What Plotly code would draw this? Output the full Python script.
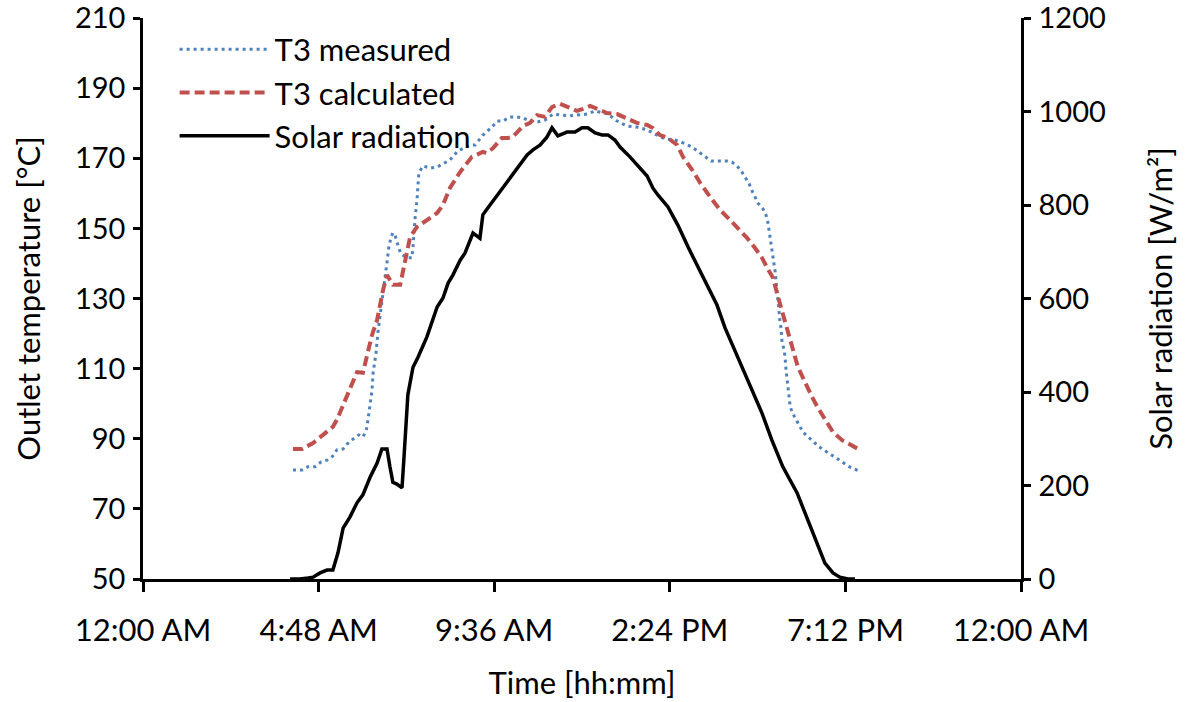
import plotly.graph_objects as go

# ---- data (time in hours of day) ----
t_meas = [4.10, 4.35, 4.51, 4.70, 4.87, 5.03, 5.19, 5.30, 5.47, 5.58, 5.74, 5.90, 6.01, 6.10,
          6.15, 6.21, 6.26, 6.29, 6.37, 6.42, 6.48, 6.53, 6.59, 6.62, 6.67, 6.72, 6.78, 6.83,
          6.89, 6.94, 7.00, 7.05, 7.22, 7.35, 7.38, 7.41, 7.44, 7.49, 7.52, 7.54, 7.65, 7.85,
          8.04, 8.20, 8.39, 8.58, 8.75, 8.99, 9.08, 9.29, 9.54, 9.68, 9.84, 10.03, 10.22, 10.39,
          10.58, 10.80, 10.99, 11.21, 11.45, 11.62, 11.86, 12.14, 12.36, 12.71, 12.96, 13.23,
          13.50, 13.78, 14.05, 14.27, 14.54, 14.76, 15.01, 15.23, 15.53, 15.72, 15.96, 16.10,
          16.24, 16.37, 16.48, 16.57, 16.65, 16.73, 16.81, 16.95, 17.03, 17.08, 17.11, 17.14,
          17.17, 17.19, 17.22, 17.25, 17.28, 17.30, 17.33, 17.36, 17.41, 17.44, 17.47, 17.52,
          17.55, 17.58, 17.60, 17.63, 17.66, 17.69, 17.74, 17.85, 17.93, 18.04, 18.18, 18.31,
          18.45, 18.62, 18.78, 18.94, 19.11, 19.27, 19.44, 19.63]
T_meas = [81.1, 81.1, 82.0, 82.0, 83.4, 83.9, 85.1, 86.8, 87.1, 88.5, 89.9, 91.1, 90.5, 92.2,
          95.4, 99.6, 103.9, 108.8, 114.5, 120.2, 124.7, 129.6, 133.3, 136.7, 140.4, 144.7, 147.5, 148.7,
          148.1, 146.1, 144.1, 142.7, 141.6, 141.6, 144.7, 149.5, 153.3, 158.1, 161.8, 165.8, 167.8, 167.2,
          167.5, 168.4, 169.5, 171.8, 172.9, 173.8, 173.8, 176.6, 178.9, 180.6, 180.6, 181.8, 181.8, 181.5,
          180.6, 180.4, 180.9, 182.6, 182.3, 182.1, 182.3, 182.6, 183.5, 182.6, 180.6, 179.2,
          178.9, 178.1, 176.6, 175.5, 175.2, 174.4, 173.2, 171.5, 169.2, 169.2, 169.2, 168.9,
          167.8, 166.1, 164.4, 162.7, 160.7, 159.0, 157.2, 155.5, 153.8, 151.8, 149.8, 147.5,
          145.6, 143.6, 141.8, 139.8, 137.6, 135.6, 131.9, 127.6, 123.6, 121.6, 117.3, 115.6,
          113.3, 109.3, 107.3, 105.3, 101.6, 99.3, 97.6, 95.6, 93.9, 91.9, 90.5, 89.4,
          87.9, 86.8, 85.7, 84.5, 83.4, 82.2, 81.4, 80.5]

t_calc = [4.10, 4.35, 4.65, 4.78, 4.98, 5.19, 5.30, 5.39, 5.52, 5.66, 5.85, 6.01, 6.15, 6.26,
          6.40, 6.56, 6.67, 6.83, 7.03, 7.16, 7.30, 7.49, 7.76, 8.04, 8.20, 8.39, 8.67, 8.99,
          9.29, 9.40, 9.57, 9.81, 9.98, 10.11, 10.39, 10.58, 10.77, 10.99, 11.18, 11.40, 11.62,
          11.86, 12.03, 12.22, 12.49, 12.68, 12.96, 13.23, 13.50, 13.78, 13.94, 14.13, 14.35,
          14.60, 14.76, 15.01, 15.23, 15.50, 15.77, 15.99, 16.13, 16.32, 16.51, 16.73, 16.92,
          17.08, 17.22, 17.36, 17.49, 17.63, 17.77, 17.90, 18.10, 18.29, 18.45, 18.64, 18.86,
          19.11, 19.33, 19.55, 19.60]
T_calc = [87.1, 87.1, 88.8, 89.9, 91.6, 93.4, 95.4, 97.6, 100.8, 104.8, 109.0, 108.8, 115.3, 119.6,
          123.9, 132.4, 136.7, 133.9, 133.9, 141.0, 147.5, 150.4, 152.4, 154.4, 156.7, 161.5, 166.1, 170.4,
          171.8, 171.5, 172.9, 175.8, 175.8, 176.1, 179.2, 180.1, 182.3, 181.8, 184.6, 185.5, 184.6,
          183.5, 184.1, 184.9, 183.8, 182.9, 182.6, 181.5, 180.1, 179.5, 178.6, 176.6, 175.8,
          173.8, 170.4, 166.7, 163.0, 159.0, 155.3, 153.0, 151.5, 149.5, 147.3, 144.4, 141.6,
          138.4, 135.9, 130.4, 125.3, 120.2, 115.3, 110.5, 105.9, 101.9, 98.8, 95.4, 91.9,
          89.6, 88.2, 87.1, 86.8]

t_rad = [4.02, 4.29, 4.51, 4.65, 4.84, 5.03, 5.19, 5.33, 5.47, 5.66, 5.85, 6.01, 6.21, 6.40,
         6.53, 6.67, 6.75, 6.83, 6.94, 7.08, 7.13, 7.19, 7.24, 7.38, 7.52, 7.76, 7.93, 8.04,
         8.20, 8.34, 8.47, 8.67, 8.80, 8.94, 9.02, 9.21, 9.29, 9.43, 9.68, 9.95, 10.22, 10.50,
         10.66, 10.85, 11.04, 11.18, 11.34, 11.59, 11.81, 12.00, 12.16, 12.36, 12.55, 12.71,
         12.90, 13.04, 13.31, 13.59, 13.78, 13.94, 14.08, 14.35, 14.62, 14.90, 15.17, 15.42,
         15.69, 15.91, 16.26, 16.59, 16.92, 17.19, 17.49, 17.88, 18.18, 18.42, 18.64, 18.86,
         19.05, 19.27, 19.46]
R_rad = [0, 0, 2, 4, 13, 19, 19, 56, 109, 133, 163, 180, 218, 248,
         278, 278, 240, 207, 203, 195, 255, 325, 394, 453, 475, 518, 554, 582,
         601, 633, 650, 682, 697, 725, 740, 729, 779, 794, 821, 849, 879, 907,
         918, 928, 945, 965, 948, 956, 956, 965, 965, 954, 950, 950,
         939, 924, 903, 879, 862, 836, 821, 796, 757, 710, 667, 625,
         586, 537, 473, 415, 355, 297, 240, 184, 126, 77, 34, 13,
         4, 0, 0]

x_tickvals = [0, 4.8, 9.6, 14.4, 19.2, 24]
x_ticktext = ["12:00 AM", "4:48 AM", "9:36 AM", "2:24 PM", "7:12 PM", "12:00 AM"]
y_tickvals = [50, 70, 90, 110, 130, 150, 170, 190, 210]
y2_tickvals = [0, 200, 400, 600, 800, 1000, 1200]

FONT = "Lato"
FS = 31
FS_Y = 29

fig = go.Figure()
fig.add_trace(go.Scatter(x=t_meas, y=T_meas, mode="lines", name="T3 measured",
                         line=dict(color="#4F81BD", width=3, dash="3px,4px")))
fig.add_trace(go.Scatter(x=t_calc, y=T_calc, mode="lines", name="T3 calculated",
                         line=dict(color="#C0504D", width=4, dash="10px,5px")))
fig.add_trace(go.Scatter(x=t_rad, y=R_rad, mode="lines", name="Solar radiation", yaxis="y2",
                         line=dict(color="black", width=3.5)))

axis_common = dict(showgrid=False, zeroline=False, showline=True, linecolor="black",
                   linewidth=2.5, ticks="outside", tickcolor="black", tickwidth=2.5,
                   ticklabeloverflow="allow", automargin=False)

fig.update_layout(
    width=1190, height=702,
    margin=dict(l=143, r=169, t=18, b=123, autoexpand=False),
    paper_bgcolor="white", plot_bgcolor="white",
    font=dict(family=FONT, size=FS, color="black"),
    xaxis=dict(range=[0, 24], tickvals=x_tickvals, ticktext=x_ticktext, ticklen=10,
               ticklabelstandoff=12,
               tickfont=dict(family=FONT, size=FS, color="black"),
               title=dict(text="Time [hh:mm]", font=dict(family=FONT, size=FS), standoff=26),
               **axis_common),
    yaxis=dict(range=[50, 210.0001], tickvals=y_tickvals, ticklen=7, ticklabelstandoff=2,
               tickfont=dict(family=FONT, size=FS_Y, color="black"),
               title=dict(text="Outlet temperature [°C]", font=dict(family=FONT, size=FS), standoff=26),
               **axis_common),
    yaxis2=dict(range=[0, 1200.001], tickvals=y2_tickvals, ticklen=7, ticklabelstandoff=2,
                tickfont=dict(family=FONT, size=FS_Y, color="black"),
                overlaying="y", side="right", anchor="x",
                title=dict(text="Solar radiation [W/m²]", font=dict(family=FONT, size=FS), standoff=46),
                **axis_common),
    legend=dict(x=0.036, y=0.992, xanchor="left", yanchor="top", bgcolor="rgba(0,0,0,0)",
                font=dict(family=FONT, size=FS), itemwidth=90, tracegroupgap=0),
    showlegend=True,
)

fig.write_html("out.html")
